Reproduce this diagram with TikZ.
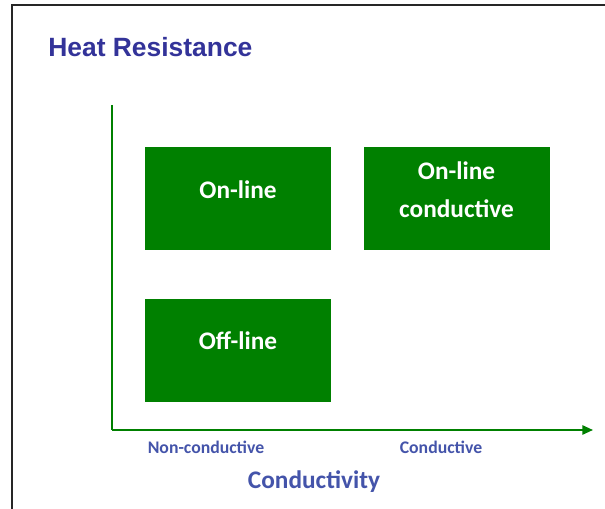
\documentclass[tikz,border=0pt]{standalone}
\usepackage{fontspec}
\setmainfont{Carlito}
\newfontfamily\titlefont{Liberation Sans}
\usetikzlibrary{arrows.meta, positioning}
\definecolor{cGreen}{RGB}{0,128,0}
\definecolor{cTitle}{RGB}{51,51,153}
\definecolor{cLabel}{RGB}{68,84,170}
\tikzset{
  quadbox/.style={rectangle, fill=cGreen, draw=none, minimum width=4.65cm,
                  minimum height=2.575cm, align=center, text=white,
                  text depth=12.8pt,
                  font=\fontsize{18}{27}\selectfont\bfseries},
  axislabel/.style={text=cLabel, font=\fontsize{12.6}{15}\selectfont\bfseries},
  axisline/.style={draw=cGreen, line width=1.4pt},
  axisarrow/.style={axisline, -{Triangle[length=7.5pt, width=6.5pt]}}
}
\begin{document}
\begin{tikzpicture}

  \useasboundingbox (0,0) rectangle (15.125,12.7);
  \fill[white] (0,0) rectangle (15.125,12.7);

  % ── Frame ──
  \draw[black!85, line width=1.6pt] (0.3,-0.2) -- (0.3,12.575) -- (15.4,12.575);

  % ── Title ──
  \node[anchor=west, inner sep=0pt, text=cTitle,
        font=\titlefont\fontsize{18.8}{22}\selectfont\bfseries]
      (title) at (1.2,11.525) {Heat Resistance};

  % ── Quadrants ──
  \node[quadbox] (online) at (5.95,7.7375) {On-line};
  \node[quadbox, right=0.8cm of online] (onlinecond) {On-line\\conductive};
  \node[quadbox, below=1.2cm of online] (offline) {Off-line};

  % ── Axes ──
  \coordinate (origin) at (2.8,1.95);
  \coordinate (ytop) at (2.8,10.075);
  \coordinate (xend) at (14.825,1.95);
  \draw[axisline] (ytop) -- (origin);
  \draw[axisarrow] (origin) -- (xend);

  % ── Axis labels ──
  \node[axislabel] (noncond) at (5.15,1.525) {Non-conductive};
  \node[axislabel] (cond) at (11.025,1.525) {Conductive};
  \node[axislabel, font=\fontsize{18}{22}\selectfont\bfseries]
      (xtitle) at (7.85,0.65) {Conductivity};

\end{tikzpicture}
\end{document}
